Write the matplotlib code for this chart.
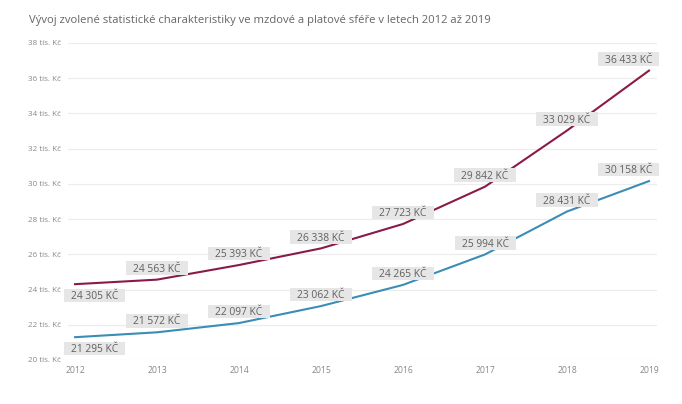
import matplotlib
matplotlib.use("Agg")
import matplotlib.pyplot as plt
from matplotlib.ticker import FuncFormatter
from matplotlib.patches import Rectangle

years = [2012, 2013, 2014, 2015, 2016, 2017, 2018, 2019]
series_red = [24305, 24563, 25393, 26338, 27723, 29842, 33029, 36433]
series_blue = [21295, 21572, 22097, 23062, 24265, 25994, 28431, 30158]
title = "Vývoj zvolené statistické charakteristiky ve mzdové a platové sféře v letech 2012 až 2019"
y_ticks = [20000, 22000, 24000, 26000, 28000, 30000, 32000, 34000, 36000, 38000]

RED = "#8a1a48"
BLUE = "#3b8db5"
plt.rcParams['font.family'] = ['Open Sans', 'DejaVu Sans']

W, H = 682, 404
fig = plt.figure(figsize=(W / 100, H / 100), dpi=100)
ax = fig.add_axes([68/W, 1 - 360/H, (657 - 68)/W, (360 - 43)/H])

ax.plot(years, series_red, color=RED, lw=1.5, zorder=3)
ax.plot(years, series_blue, color=BLUE, lw=1.5, zorder=3)

ax.set_ylim(20000, 38000)
ax.set_xlim(2012 - 7/82, 2019 + 8/82)
ax.set_yticks(y_ticks)
ax.yaxis.set_major_formatter(FuncFormatter(lambda v, p: f"{int(v/1000)} tis. Kč"))
ax.set_xticks(years)
ax.grid(axis='y', color='#ececec', lw=0.8)
ax.set_axisbelow(True)
for s in ax.spines.values():
    s.set_visible(False)
ax.tick_params(axis='both', length=0, colors='#888888')
ax.tick_params(axis='y', labelsize=5.8, pad=40 * 0.72)
ax.tick_params(axis='x', labelsize=6.2, pad=4)
for lbl in ax.get_yticklabels():
    lbl.set_horizontalalignment('left')

fig.text(29/W, 1 - 20/H, title, fontsize=8.1, color='#666666', va='center', ha='left')


def fmt(v):
    return f"{v:,}".replace(",", " ") + " KČ"


FS = 7.4
cap = 0.714 * FS * 100 / 72
PADX, BOXH, OFF = 7, 13.5, 11.5
XMIN, XMAX = 64, 659

labels = []
for i, (x, r, b) in enumerate(zip(years, series_red, series_blue)):
    for v in (r, b):
        below = (i == 0)
        dy = -OFF if below else OFF
        t = ax.annotate(fmt(v), (x, v), xytext=(0, dy - cap / 2),
                        textcoords='offset pixels', ha='center', va='baseline',
                        fontsize=FS, color='#606060', zorder=5)
        labels.append((t, x, v, dy))

fig.canvas.draw()
renderer = fig.canvas.get_renderer()
inv = ax.transData.inverted()
for t, x, v, dy in labels:
    w = t.get_window_extent(renderer).width
    bw = w + 2 * PADX
    px, py = ax.transData.transform((x, v))
    cx = min(max(px, XMIN + bw / 2), XMAX - bw / 2)
    t.set_position((cx - px, dy - cap / 2))
    cy = py + dy
    (x0, y0) = inv.transform((cx - bw / 2, cy - BOXH / 2))
    (x1, y1) = inv.transform((cx + bw / 2, cy + BOXH / 2))
    ax.add_patch(Rectangle((x0, y0), x1 - x0, y1 - y0, fc='#e6e6e6', ec='none',
                           zorder=4, clip_on=False))

fig.savefig("out.png", dpi=100, facecolor='white')
